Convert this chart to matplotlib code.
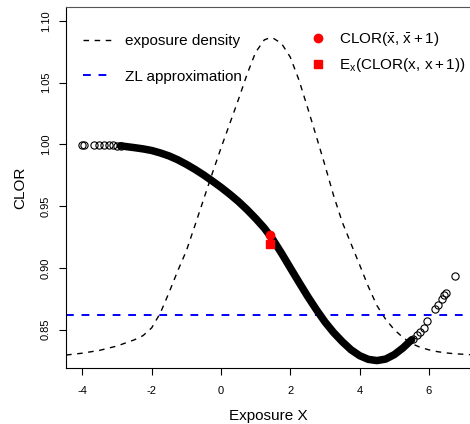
import numpy as np
import matplotlib.pyplot as plt
from matplotlib.lines import Line2D

plt.rcParams['font.family'] = ['Liberation Sans', 'DejaVu Sans']
plt.rcParams['mathtext.fontset'] = 'custom'
plt.rcParams['mathtext.rm'] = 'Liberation Sans'
plt.rcParams['mathtext.it'] = 'Liberation Sans:italic'
plt.rcParams['axes.unicode_minus'] = False

# exposure density, rescaled onto the CLOR axis
dens_x = [-4.47, -4.0, -3.5, -3.0, -2.5, -2.25, -2.0, -1.75, -1.5, -1.25,
          -1.0, -0.75, -0.5, -0.25, 0.0, 0.25, 0.5, 0.75, 1.0, 1.25,
          1.41, 1.5, 1.75, 2.0, 2.25, 2.5, 2.75, 3.0, 3.25, 3.5,
          3.75, 4.0, 4.25, 4.5, 4.75, 5.0, 5.25, 5.5, 5.75, 6.0,
          6.25, 6.5, 6.75, 7.19]
dens_y = [0.8295, 0.8310, 0.8333, 0.8368, 0.8418, 0.8452, 0.8515, 0.8635, 0.8800, 0.8975,
          0.9138, 0.9345, 0.9556, 0.9766, 0.9970, 1.0165, 1.0360, 1.0565, 1.0745, 1.0845,
          1.0862, 1.0860, 1.0815, 1.0705, 1.0520, 1.0295, 1.0065, 0.9830, 0.9585, 0.9370,
          0.9197, 0.9025, 0.8850, 0.8695, 0.8585, 0.8500, 0.8437, 0.8388, 0.8357, 0.8337,
          0.8322, 0.8312, 0.8305, 0.8298]

# CLOR(x, x+1) where the sample points pile up into a solid band
band_x = [-2.9, -2.75, -2.5, -2.25, -2.0, -1.75, -1.5, -1.25, -1.0, -0.75,
          -0.5, -0.25, 0.0, 0.25, 0.5, 0.75, 1.0, 1.25, 1.5, 1.75,
          2.0, 2.25, 2.5, 2.75, 3.0, 3.25, 3.5, 3.75, 4.0, 4.25,
          4.5, 4.75, 5.0, 5.25, 5.5]
band_y = [0.9988, 0.9982, 0.9973, 0.9963, 0.9950, 0.9930, 0.9906, 0.9875, 0.9838, 0.9797,
          0.9752, 0.9703, 0.9652, 0.9597, 0.9538, 0.9472, 0.9400, 0.9322, 0.9228, 0.9117,
          0.9000, 0.8884, 0.8770, 0.8663, 0.8563, 0.8477, 0.8403, 0.8338, 0.8290, 0.8260,
          0.8250, 0.8262, 0.8298, 0.8352, 0.8418]

# the sparse sample points in both tails
tail_x = [-4.02, -3.94, -3.67, -3.52, -3.38, -3.24, -3.11, -2.99, -2.89,
          5.55, 5.65, 5.74, 5.86, 5.94, 6.18, 6.27, 6.37, 6.44, 6.49, 6.75]
tail_y = [0.9998, 0.9998, 0.9997, 0.9996, 0.9995, 0.9994, 0.9992, 0.9990, 0.9988,
          0.8427, 0.8455, 0.8482, 0.8514, 0.8568, 0.8665, 0.8697, 0.8746, 0.8778, 0.8797, 0.8932]

zl_approx = 0.862
x_mean = 1.41
clor_at_mean = 0.9266
mean_of_clor = 0.9197

fig = plt.figure(figsize=(4.7, 4.24), dpi=100)
ax = fig.add_axes([66/470, 1 - 368/424, 404/470, 361/424])

ax.plot(dens_x, dens_y, color='black', lw=1.0, ls=(0, (4, 4)))
ax.axhline(zl_approx, color='blue', lw=1.4, ls=(0, (4, 4)))
ax.plot(band_x, band_y, color='black', lw=5.4, solid_capstyle='round')
ax.plot(tail_x, tail_y, ls='none', marker='o', ms=5.2, mfc='none', mec='black', mew=0.8)
ax.plot([x_mean], [clor_at_mean], ls='none', marker='o', ms=6.0, color='red')
ax.plot([x_mean], [mean_of_clor], ls='none', marker='s', ms=5.8, color='red')

ax.set_xlim(-4.473, 7.186)
ax.set_ylim(0.8190, 1.1111)
ax.set_xticks([-4, -2, 0, 2, 4, 6])
ax.set_yticks([0.85, 0.90, 0.95, 1.00, 1.05, 1.10])
ax.set_yticklabels(['0.85', '0.90', '0.95', '1.00', '1.05', '1.10'])
ax.tick_params(length=5, width=0.8, labelsize=8, pad=6)
ax.tick_params(axis='x', pad=8)
for lab in ax.get_yticklabels():
    lab.set_rotation(90)
    lab.set_va('center')
    lab.set_ha('right')
ax.spines['right'].set_visible(False)
for s in ['left', 'bottom', 'top']:
    ax.spines[s].set_linewidth(0.8)
ax.spines['top'].set_color('#555555')

ax.set_xlabel('Exposure X', fontsize=11, labelpad=9.5)
ax.set_ylabel('CLOR', fontsize=11, labelpad=10)

h1 = [Line2D([], [], color='black', lw=1.0, ls=(0, (4, 4))),
      Line2D([], [], color='blue', lw=1.4, ls=(0, (4, 4)))]
leg1 = ax.legend(h1, ['exposure density', 'ZL approximation'], loc='upper left',
                 bbox_to_anchor=(0.042, 0.924), frameon=False, fontsize=11,
                 borderpad=0, borderaxespad=0, handlelength=1.9,
                 handletextpad=0.85, labelspacing=1.4)
ax.add_artist(leg1)

h2 = [Line2D([], [], ls='none', marker='o', ms=6.0, color='red'),
      Line2D([], [], ls='none', marker='s', ms=5.2, color='red')]
ax.legend(h2, [r'$\mathrm{CLOR}(\bar{\mathrm{x}},\,\bar{\mathrm{x}}+1)$',
               r'$\mathrm{E_x(CLOR(x,\,x+1))}$'],
          loc='upper left', bbox_to_anchor=(0.604, 0.936), frameon=False, fontsize=11,
          borderpad=0, borderaxespad=0, handlelength=1.0, handletextpad=0.87,
          labelspacing=0.52)

fig.savefig('out.png', dpi=100)
